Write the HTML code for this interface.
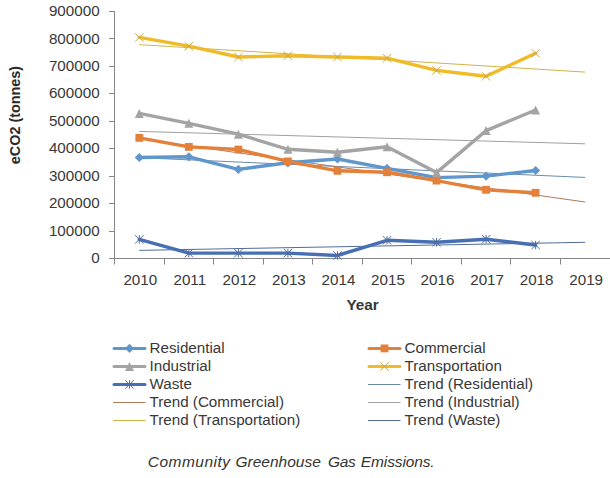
<!DOCTYPE html>
<html><head><meta charset="utf-8"><style>
html,body{margin:0;padding:0;background:#fff;}
body{width:610px;height:478px;position:relative;overflow:hidden;font-family:"Liberation Sans",sans-serif;color:#383838;}
svg{position:absolute;left:0;top:0;}
.yl{position:absolute;right:510.4px;font-size:15.2px;line-height:17px;white-space:nowrap;}
.xl{position:absolute;top:270.5px;width:60px;text-align:center;font-size:15.2px;line-height:17px;}
.t{position:absolute;font-size:15.2px;line-height:17px;white-space:nowrap;}
.ytitle{position:absolute;left:15px;top:115.3px;color:#2a2a2a;transform:translate(-50%,-50%) rotate(-90deg);font-weight:bold;font-size:14.4px;line-height:17px;white-space:nowrap;}
.xtitle{position:absolute;left:346.5px;top:296px;font-weight:bold;font-size:15.3px;line-height:17px;white-space:nowrap;}
.cap{position:absolute;top:453px;font-style:italic;font-size:15.5px;line-height:17px;white-space:nowrap;color:#333;}
</style></head><body>
<svg width="610" height="478" viewBox="0 0 610 478">
<path d="M114.5 11V264.5M109 11.5H114.5M109 38.5H114.5M109 66.5H114.5M109 93.5H114.5M109 121.5H114.5M109 148.5H114.5M109 176.5H114.5M109 203.5H114.5M109 231.5H114.5M109 258.5H610" stroke="#868686" stroke-width="1" fill="none"/>
<path d="M164.5 258.5V264.5M213.5 258.5V264.5M263.5 258.5V264.5M312.5 258.5V264.5M362.5 258.5V264.5M411.5 258.5V264.5M461.5 258.5V264.5M510.5 258.5V264.5M560.5 258.5V264.5" stroke="#868686" stroke-width="1" fill="none"/>
<line x1="139.30" y1="157.66" x2="585.16" y2="177.45" stroke="#6A8CA8" stroke-width="1"/>
<line x1="139.30" y1="138.80" x2="585.16" y2="202.01" stroke="#B07A58" stroke-width="1"/>
<line x1="139.30" y1="131.43" x2="585.16" y2="143.82" stroke="#A0A0A0" stroke-width="1"/>
<line x1="139.30" y1="44.62" x2="585.16" y2="72.10" stroke="#D0B448" stroke-width="1"/>
<line x1="139.30" y1="250.36" x2="585.16" y2="242.30" stroke="#536D96" stroke-width="1"/>
<polyline points="139.30,157.50 188.84,156.80 238.38,169.40 287.92,162.80 337.46,159.00 387.00,168.40 436.54,177.60 486.08,176.10 535.62,170.50" fill="none" stroke="#5F97CC" stroke-width="3.4" stroke-linejoin="round" stroke-linecap="round"/>
<path d="M139.30 152.90L143.90 157.50L139.30 162.10L134.70 157.50Z" fill="#5F97CC"/>
<path d="M188.84 152.20L193.44 156.80L188.84 161.40L184.24 156.80Z" fill="#5F97CC"/>
<path d="M238.38 164.80L242.98 169.40L238.38 174.00L233.78 169.40Z" fill="#5F97CC"/>
<path d="M287.92 158.20L292.52 162.80L287.92 167.40L283.32 162.80Z" fill="#5F97CC"/>
<path d="M337.46 154.40L342.06 159.00L337.46 163.60L332.86 159.00Z" fill="#5F97CC"/>
<path d="M387.00 163.80L391.60 168.40L387.00 173.00L382.40 168.40Z" fill="#5F97CC"/>
<path d="M436.54 173.00L441.14 177.60L436.54 182.20L431.94 177.60Z" fill="#5F97CC"/>
<path d="M486.08 171.50L490.68 176.10L486.08 180.70L481.48 176.10Z" fill="#5F97CC"/>
<path d="M535.62 165.90L540.22 170.50L535.62 175.10L531.02 170.50Z" fill="#5F97CC"/>
<polyline points="139.30,137.90 188.84,146.90 238.38,149.50 287.92,161.40 337.46,170.80 387.00,172.30 436.54,180.60 486.08,189.80 535.62,192.80" fill="none" stroke="#E4803A" stroke-width="3.4" stroke-linejoin="round" stroke-linecap="round"/>
<rect x="135.40" y="134.00" width="7.80" height="7.80" fill="#E4803A"/>
<rect x="184.94" y="143.00" width="7.80" height="7.80" fill="#E4803A"/>
<rect x="234.48" y="145.60" width="7.80" height="7.80" fill="#E4803A"/>
<rect x="284.02" y="157.50" width="7.80" height="7.80" fill="#E4803A"/>
<rect x="333.56" y="166.90" width="7.80" height="7.80" fill="#E4803A"/>
<rect x="383.10" y="168.40" width="7.80" height="7.80" fill="#E4803A"/>
<rect x="432.64" y="176.70" width="7.80" height="7.80" fill="#E4803A"/>
<rect x="482.18" y="185.90" width="7.80" height="7.80" fill="#E4803A"/>
<rect x="531.72" y="188.90" width="7.80" height="7.80" fill="#E4803A"/>
<polyline points="139.30,113.40 188.84,123.30 238.38,134.20 287.92,149.30 337.46,152.20 387.00,146.80 436.54,172.60 486.08,130.60 535.62,110.00" fill="none" stroke="#A4A4A4" stroke-width="3.4" stroke-linejoin="round" stroke-linecap="round"/>
<path d="M139.30 108.90L143.80 117.90L134.80 117.90Z" fill="#A4A4A4"/>
<path d="M188.84 118.80L193.34 127.80L184.34 127.80Z" fill="#A4A4A4"/>
<path d="M238.38 129.70L242.88 138.70L233.88 138.70Z" fill="#A4A4A4"/>
<path d="M287.92 144.80L292.42 153.80L283.42 153.80Z" fill="#A4A4A4"/>
<path d="M337.46 147.70L341.96 156.70L332.96 156.70Z" fill="#A4A4A4"/>
<path d="M387.00 142.30L391.50 151.30L382.50 151.30Z" fill="#A4A4A4"/>
<path d="M436.54 168.10L441.04 177.10L432.04 177.10Z" fill="#A4A4A4"/>
<path d="M486.08 126.10L490.58 135.10L481.58 135.10Z" fill="#A4A4A4"/>
<path d="M535.62 105.50L540.12 114.50L531.12 114.50Z" fill="#A4A4A4"/>
<polyline points="139.30,37.40 188.84,46.20 238.38,57.00 287.92,55.70 337.46,57.00 387.00,58.20 436.54,70.40 486.08,76.30 535.62,53.30" fill="none" stroke="#EFBB26" stroke-width="3.4" stroke-linejoin="round" stroke-linecap="round"/>
<path d="M135.10 33.20L143.50 41.60M143.50 33.20L135.10 41.60" stroke="#C9A850" stroke-width="1" fill="none"/>
<path d="M184.64 42.00L193.04 50.40M193.04 42.00L184.64 50.40" stroke="#C9A850" stroke-width="1" fill="none"/>
<path d="M234.18 52.80L242.58 61.20M242.58 52.80L234.18 61.20" stroke="#C9A850" stroke-width="1" fill="none"/>
<path d="M283.72 51.50L292.12 59.90M292.12 51.50L283.72 59.90" stroke="#C9A850" stroke-width="1" fill="none"/>
<path d="M333.26 52.80L341.66 61.20M341.66 52.80L333.26 61.20" stroke="#C9A850" stroke-width="1" fill="none"/>
<path d="M382.80 54.00L391.20 62.40M391.20 54.00L382.80 62.40" stroke="#C9A850" stroke-width="1" fill="none"/>
<path d="M432.34 66.20L440.74 74.60M440.74 66.20L432.34 74.60" stroke="#C9A850" stroke-width="1" fill="none"/>
<path d="M481.88 72.10L490.28 80.50M490.28 72.10L481.88 80.50" stroke="#C9A850" stroke-width="1" fill="none"/>
<path d="M531.42 49.10L539.82 57.50M539.82 49.10L531.42 57.50" stroke="#C9A850" stroke-width="1" fill="none"/>
<polyline points="139.30,239.40 188.84,253.10 238.38,253.10 287.92,253.10 337.46,255.50 387.00,240.30 436.54,242.30 486.08,239.20 535.62,245.00" fill="none" stroke="#4770B4" stroke-width="3.4" stroke-linejoin="round" stroke-linecap="round"/>
<path d="M135.10 235.20L143.50 243.60M143.50 235.20L135.10 243.60M139.30 235.20L139.30 243.60" stroke="#4F6A9E" stroke-width="1" fill="none"/>
<path d="M184.64 248.90L193.04 257.30M193.04 248.90L184.64 257.30M188.84 248.90L188.84 257.30" stroke="#4F6A9E" stroke-width="1" fill="none"/>
<path d="M234.18 248.90L242.58 257.30M242.58 248.90L234.18 257.30M238.38 248.90L238.38 257.30" stroke="#4F6A9E" stroke-width="1" fill="none"/>
<path d="M283.72 248.90L292.12 257.30M292.12 248.90L283.72 257.30M287.92 248.90L287.92 257.30" stroke="#4F6A9E" stroke-width="1" fill="none"/>
<path d="M333.26 251.30L341.66 259.70M341.66 251.30L333.26 259.70M337.46 251.30L337.46 259.70" stroke="#4F6A9E" stroke-width="1" fill="none"/>
<path d="M382.80 236.10L391.20 244.50M391.20 236.10L382.80 244.50M387.00 236.10L387.00 244.50" stroke="#4F6A9E" stroke-width="1" fill="none"/>
<path d="M432.34 238.10L440.74 246.50M440.74 238.10L432.34 246.50M436.54 238.10L436.54 246.50" stroke="#4F6A9E" stroke-width="1" fill="none"/>
<path d="M481.88 235.00L490.28 243.40M490.28 235.00L481.88 243.40M486.08 235.00L486.08 243.40" stroke="#4F6A9E" stroke-width="1" fill="none"/>
<path d="M531.42 240.80L539.82 249.20M539.82 240.80L531.42 249.20M535.62 240.80L535.62 249.20" stroke="#4F6A9E" stroke-width="1" fill="none"/>
<line x1="114.00" y1="348.40" x2="145.00" y2="348.40" stroke="#5F97CC" stroke-width="3" stroke-linecap="round"/>
<path d="M129.50 343.80L134.10 348.40L129.50 353.00L124.90 348.40Z" fill="#5F97CC"/>
<line x1="114.00" y1="366.40" x2="145.00" y2="366.40" stroke="#A4A4A4" stroke-width="3" stroke-linecap="round"/>
<path d="M129.50 361.90L134.00 370.90L125.00 370.90Z" fill="#A4A4A4"/>
<line x1="114.00" y1="384.40" x2="145.00" y2="384.40" stroke="#4770B4" stroke-width="3" stroke-linecap="round"/>
<path d="M125.30 380.20L133.70 388.60M133.70 380.20L125.30 388.60M129.50 380.20L129.50 388.60" stroke="#4F6A9E" stroke-width="1" fill="none"/>
<line x1="113.00" y1="402.50" x2="145.50" y2="402.50" stroke="#B07A58" stroke-width="1"/>
<line x1="113.00" y1="420.50" x2="145.50" y2="420.50" stroke="#D0B448" stroke-width="1"/>
<line x1="369.00" y1="348.40" x2="400.00" y2="348.40" stroke="#E4803A" stroke-width="3" stroke-linecap="round"/>
<rect x="380.60" y="344.50" width="7.80" height="7.80" fill="#E4803A"/>
<line x1="369.00" y1="366.40" x2="400.00" y2="366.40" stroke="#EFBB26" stroke-width="3" stroke-linecap="round"/>
<path d="M380.30 362.20L388.70 370.60M388.70 362.20L380.30 370.60" stroke="#C9A850" stroke-width="1" fill="none"/>
<line x1="368.00" y1="384.50" x2="400.50" y2="384.50" stroke="#6A8CA8" stroke-width="1"/>
<line x1="368.00" y1="402.50" x2="400.50" y2="402.50" stroke="#A0A0A0" stroke-width="1"/>
<line x1="368.00" y1="420.50" x2="400.50" y2="420.50" stroke="#536D96" stroke-width="1"/>
</svg>
<div class="yl" style="top:2.0px">900000</div><div class="yl" style="top:29.5px">800000</div><div class="yl" style="top:56.9px">700000</div><div class="yl" style="top:84.3px">600000</div><div class="yl" style="top:111.8px">500000</div><div class="yl" style="top:139.2px">400000</div><div class="yl" style="top:166.7px">300000</div><div class="yl" style="top:194.2px">200000</div><div class="yl" style="top:221.6px">100000</div><div class="yl" style="top:249.0px">0</div>
<div class="xl" style="left:110.3px">2010</div><div class="xl" style="left:159.8px">2011</div><div class="xl" style="left:209.4px">2012</div><div class="xl" style="left:258.9px">2013</div><div class="xl" style="left:308.5px">2014</div><div class="xl" style="left:358.0px">2015</div><div class="xl" style="left:407.5px">2016</div><div class="xl" style="left:457.1px">2017</div><div class="xl" style="left:506.6px">2018</div><div class="xl" style="left:556.2px">2019</div>
<div class="ytitle">eCO2 (tonnes)</div>
<div class="xtitle">Year</div>
<div class="t" style="left:149.5px;top:338.6px">Residential</div>
<div class="t" style="left:149.5px;top:356.6px">Industrial</div>
<div class="t" style="left:149.5px;top:374.6px">Waste</div>
<div class="t" style="left:149.5px;top:392.7px">Trend (Commercial)</div>
<div class="t" style="left:149.5px;top:410.7px">Trend (Transportation)</div>
<div class="t" style="left:404.5px;top:338.6px">Commercial</div>
<div class="t" style="left:404.5px;top:356.6px">Transportation</div>
<div class="t" style="left:404.5px;top:374.7px">Trend (Residential)</div>
<div class="t" style="left:404.5px;top:392.7px">Trend (Industrial)</div>
<div class="t" style="left:404.5px;top:410.7px">Trend (Waste)</div>
<div class="cap" style="left:147.7px;letter-spacing:0.5px">Community</div>
<div class="cap" style="left:235.5px">Greenhouse</div>
<div class="cap" style="left:327.9px;letter-spacing:-0.3px">Gas</div>
<div class="cap" style="left:360.8px;letter-spacing:-0.12px">Emissions.</div>
</body></html>
